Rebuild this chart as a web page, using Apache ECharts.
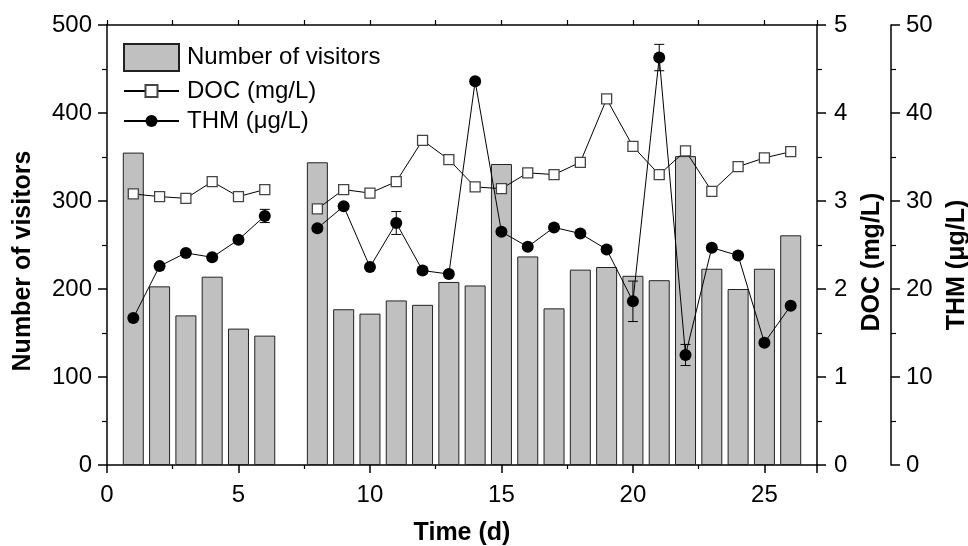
<!DOCTYPE html>
<html>
<head>
<meta charset="utf-8">
<script src="https://cdn.jsdelivr.net/npm/echarts@6/dist/echarts.min.js"></script>
<style>
html,body{margin:0;padding:0;background:#fff;}
#chart{width:968px;height:546px;}
</style>
</head>
<body>
<div id="chart"></div>
<script>
const days = [1,2,3,4,5,6,7,8,9,10,11,12,13,14,15,16,17,18,19,20,21,22,23,24,25,26];
const visitors = [355,203,170,214,155,147,null,344,177,172,187,182,208,204,342,237,178,222,225,215,210,351,223,200,223,261];
const doc = [3.08,3.05,3.03,3.22,3.05,3.13,null,2.91,3.13,3.09,3.22,3.69,3.47,3.16,3.14,3.32,3.30,3.44,4.16,3.62,3.30,3.57,3.11,3.39,3.49,3.56];
const thm = [16.7,22.6,24.1,23.6,25.6,28.3,null,26.9,29.4,22.5,27.5,22.1,21.7,43.6,26.5,24.8,27.0,26.3,24.5,18.6,46.3,12.5,24.7,23.8,13.9,18.1];
const thmErr = [0.3,0.3,0.3,0.3,0.3,0.75,null,0.3,0.3,0.3,1.3,0.3,0.3,0.3,0.3,0.3,0.3,0.3,0.3,2.3,1.5,1.2,0.3,0.3,0.3,0.3];
const xTicks = {min:0, max:27, interval:5};
const leftTicks = {min:0, max:500, interval:100};
const docTicks = {min:0, max:5, interval:1};
const thmTicks = {min:0, max:50, interval:10};

const font = 'Liberation Sans, Arial, sans-serif';
const chart = echarts.init(document.getElementById('chart'));

const barData = days.map((d,i)=>[d, visitors[i]]).filter(p=>p[1]!==null);
const docData = days.map((d,i)=>[d, doc[i]]);
const thmData = days.map((d,i)=>[d, thm[i]]);
const errData = days.map((d,i)=>thm[i]===null?null:[d, thm[i]-thmErr[i], thm[i]+thmErr[i]]).filter(p=>p);

const axisLine = {show:true, onZero:false, lineStyle:{color:'#000', width:1.5}};
const labelStyle = {color:'#000', fontSize:24, fontFamily:font};

chart.setOption({
  animation:false,
  backgroundColor:'#fff',
  grid:{left:107, right:151, top:25, bottom:81, containLabel:false, outerBoundsMode:'none'},
  legend:[
    {data:[{name:'Number of visitors', icon:'rect'}], left:123, top:43, padding:0, orient:'vertical', itemWidth:55, itemHeight:27, itemGap:0,
      textStyle:{color:'#000', fontSize:24, fontFamily:font, padding:[0,0,0,3]}},
    {data:['DOC (mg/L)','THM (μg/L)'], left:123, top:79, padding:0, orient:'vertical', itemWidth:55, itemHeight:15, itemGap:6,
      textStyle:{color:'#000', fontSize:24, fontFamily:font, padding:[0,0,0,3]}}
  ],
  xAxis:[
    {type:'value', position:'bottom', min:xTicks.min, max:xTicks.max, interval:xTicks.interval,
      axisLine:axisLine, axisTick:{show:true, inside:false, length:8, lineStyle:{color:'#000', width:1.5}},
      minorTick:{show:true, splitNumber:2, length:4, lineStyle:{color:'#000', width:1.2}},
      axisLabel:Object.assign({margin:18, showMaxLabel:false}, labelStyle),
      splitLine:{show:false},
      name:'Time (d)', nameLocation:'middle', nameGap:56,
      nameTextStyle:{color:'#000', fontSize:25, fontWeight:'bold', fontFamily:font}},
    {type:'value', position:'top', min:xTicks.min, max:xTicks.max, interval:xTicks.interval,
      axisLine:axisLine, axisTick:{show:true, inside:false, length:5, lineStyle:{color:'#000', width:1.2}},
      minorTick:{show:true, splitNumber:2, length:5, lineStyle:{color:'#000', width:1.2}},
      axisLabel:{show:false}, splitLine:{show:false}}
  ],
  yAxis:[
    {type:'value', position:'left', min:leftTicks.min, max:leftTicks.max, interval:leftTicks.interval,
      axisLine:axisLine, axisTick:{show:true, inside:false, length:9, lineStyle:{color:'#000', width:1.5}},
      minorTick:{show:true, splitNumber:2, length:5, lineStyle:{color:'#000', width:1.2}},
      axisLabel:Object.assign({margin:15}, labelStyle), splitLine:{show:false}},
    {type:'value', position:'right', min:docTicks.min, max:docTicks.max, interval:docTicks.interval,
      axisLine:axisLine, axisTick:{show:true, inside:false, length:9, lineStyle:{color:'#000', width:1.5}},
      minorTick:{show:true, splitNumber:2, length:5, lineStyle:{color:'#000', width:1.2}},
      axisLabel:Object.assign({margin:17}, labelStyle), splitLine:{show:false}},
    {type:'value', position:'right', offset:74, min:thmTicks.min, max:thmTicks.max, interval:thmTicks.interval,
      axisLine:axisLine, axisTick:{show:true, inside:false, length:9, lineStyle:{color:'#000', width:1.5}},
      minorTick:{show:true, splitNumber:2, length:5, lineStyle:{color:'#000', width:1.2}},
      axisLabel:Object.assign({margin:15}, labelStyle), splitLine:{show:false}}
  ],
  graphic:[
    {type:'text', x:23, y:261, rotation:Math.PI/2, style:{text:'Number of visitors', fill:'#000', font:'bold 25px '+font, textAlign:'center', textVerticalAlign:'middle'}},
    {type:'text', x:872, y:262, rotation:Math.PI/2, style:{text:'DOC (mg/L)', fill:'#000', font:'bold 25px '+font, textAlign:'center', textVerticalAlign:'middle'}},
    {type:'text', x:957, y:265, rotation:Math.PI/2, style:{text:'THM (μg/L)', fill:'#000', font:'bold 25px '+font, textAlign:'center', textVerticalAlign:'middle'}}
  ],
  series:[
    {name:'Number of visitors', type:'bar', xAxisIndex:0, yAxisIndex:0, data:barData, barWidth:21,
      itemStyle:{color:'#c0c0c0', borderColor:'#222', borderWidth:1}, z:1},
    {name:'DOC (mg/L)', type:'line', xAxisIndex:0, yAxisIndex:1, data:docData, connectNulls:false,
      symbol:'rect', symbolSize:10, showAllSymbol:true,
      itemStyle:{color:'#fff', borderColor:'#444', borderWidth:1.3},
      lineStyle:{color:'#000', width:1}, z:3},
    {name:'THM (μg/L)', type:'line', xAxisIndex:0, yAxisIndex:2, data:thmData, connectNulls:false,
      symbol:'circle', symbolSize:12, showAllSymbol:true,
      itemStyle:{color:'#000', borderColor:'#000', borderWidth:0},
      lineStyle:{color:'#000', width:1}, z:4},
    {name:'err', type:'custom', xAxisIndex:0, yAxisIndex:2, data:errData, z:3,
      renderItem:function(params, api){
        const x = api.value(0);
        const lo = api.coord([x, api.value(1)]);
        const hi = api.coord([x, api.value(2)]);
        const w = 5;
        const st = {stroke:'#000', lineWidth:1};
        return {type:'group', children:[
          {type:'line', shape:{x1:lo[0], y1:lo[1], x2:hi[0], y2:hi[1]}, style:st},
          {type:'line', shape:{x1:lo[0]-w, y1:lo[1], x2:lo[0]+w, y2:lo[1]}, style:st},
          {type:'line', shape:{x1:hi[0]-w, y1:hi[1], x2:hi[0]+w, y2:hi[1]}, style:st}
        ]};
      }}
  ]
});
</script>
</body>
</html>
